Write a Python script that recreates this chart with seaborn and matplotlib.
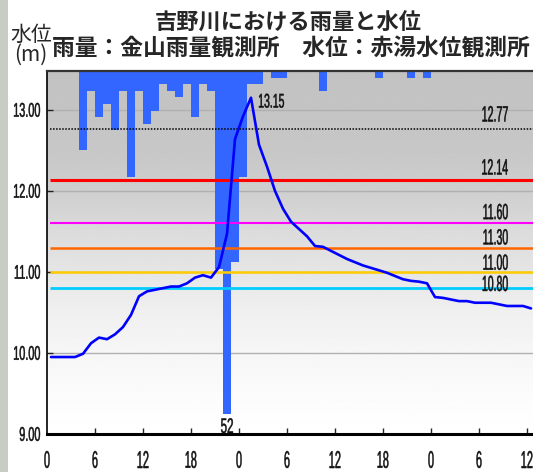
#import lib
import numpy as np
import matplotlib
matplotlib.use('Agg')
import matplotlib.pyplot as plt
import matplotlib.transforms as mtrans
from matplotlib.textpath import TextPath
from matplotlib.patches import PathPatch, Rectangle
from matplotlib.font_manager import FontProperties
import seaborn as sns

#data : hourly rain (mm) at the start of each hour, water level (m) at half past
rain_hour = list(range(0, 61))
rain_mm = [0, 0, 0, 0, 12, 3, 7, 5, 9, 3,
           16, 3, 8, 6, 2, 3, 4, 2, 7, 2,
           3, 30, 52, 29, 16, 2, 2, 0, 1, 1,
           0, 0, 0, 0, 3, 0, 0, 0, 0, 0,
           0, 1, 0, 0, 0, 1, 0, 1, 0, 0,
           0, 0, 0, 0, 0, 0, 0, 0, 0, 0, 0]

level_hour = [h + 0.5 for h in range(0, 61)]
level_m = [9.95, 9.95, 9.95, 9.95, 9.99, 10.12, 10.19, 10.17, 10.23, 10.32,
           10.47, 10.70, 10.76, 10.78, 10.80, 10.82, 10.82, 10.86, 10.93, 10.96,
           10.93, 11.06, 11.47, 12.64, 12.92, 13.15, 12.57, 12.30, 12.00, 11.78,
           11.62, 11.53, 11.44, 11.32, 11.31, 11.26, 11.21, 11.16, 11.12, 11.08,
           11.05, 11.02, 10.99, 10.95, 10.91, 10.89, 10.88, 10.86, 10.69, 10.68,
           10.66, 10.64, 10.64, 10.62, 10.62, 10.62, 10.60, 10.58, 10.58, 10.58, 10.55]

plan_level = 12.77
warn_levels = [12.14, 11.60, 11.30, 11.00, 10.80]
warn_colors = ['#ff0000', '#ff00ff', '#ff6600', '#ffcc00', '#00ccff']
warn_widths = [2.2, 1.5, 1.8, 1.8, 2.0]
label_gap = [7, 5, 4, 3, 2, -3]   # px above each line: 12.77 first

xtick_pos = list(range(0, 61, 6))
xtick_txt = ['0', '6', '12', '18', '0', '6', '12', '18', '0', '6', '12']
ytick_pos = [9, 10, 11, 12, 13]

title = '吉野川における雨量と水位'
subtitle = '雨量：金山雨量観測所　水位：赤湯水位観測所'

sns.set_theme(style='white')
plt.rcParams['font.family'] = ['Noto Sans CJK JP', 'DejaVu Sans']

num_font = FontProperties(family='Liberation Sans')

# narrow numbers (the original uses a condensed face)
def narrow_text(ax, x, y, s, h, sx, ha='left', va='bottom', dx=0, dy=0, trans=None):
    tp = TextPath((0, 0), s, size=100, prop=num_font)
    ext = tp.get_extents()
    k = h / ext.height
    ox = {'left': ext.x0, 'center': (ext.x0 + ext.x1) / 2, 'right': ext.x1}[ha] * k * sx
    oy = {'bottom': ext.y0, 'center': (ext.y0 + ext.y1) / 2, 'top': ext.y1}[va] * k
    tr = (mtrans.Affine2D().scale(k * sx, k).translate(dx - ox, dy - oy)
          + mtrans.ScaledTranslation(x, y, trans if trans is not None else ax.transData))
    ax.add_patch(PathPatch(tp, transform=tr, facecolor='#111111', edgecolor='#111111',
                           lw=0.35, clip_on=False, zorder=8))

W, H = 533, 472
fig = plt.figure(figsize=(W / 100, H / 100), dpi=100)
pos = [47 / W, 38 / H, (W - 47) / W, 363 / H]
xmax = 60.75
ymin, ymax = 9.0, 13.48

# background gradient + grid
bg = fig.add_axes(pos, zorder=0)
ys = np.linspace(ymax, ymin, 300)
shade = np.interp(ys, [9, 9.5, 10, 10.5, 11, 11.5, 12, 12.5, 13.48],
                  [1.0, 0.985, 0.965, 0.94, 0.90, 0.86, 0.81, 0.78, 0.76])
bg.imshow(shade[:, None], extent=[0, 1, ymin, ymax], aspect='auto', cmap='gray',
          vmin=0, vmax=1, interpolation='bilinear')
for v in ytick_pos:
    bg.axhline(v, color='#b0b0b0', lw=1)
bg.set_xlim(0, 1)
bg.set_ylim(ymin, ymax)
bg.axis('off')

ax = fig.add_axes(pos, zorder=2)
ax.patch.set_visible(False)
ax2 = ax.twinx()
ax2.set_zorder(1)
ax2.patch.set_visible(False)

# rain bars hanging from the top
ax2.bar(rain_hour, rain_mm, width=1, align='edge', color='#3366ff', linewidth=0)
ax2.set_ylim(55, 0)
ax2.set_yticks([])
for s in ax2.spines.values():
    s.set_visible(False)

# reference levels
ax.hlines(plan_level, 0.35, 62, colors='black', lw=1.1, linestyles=(0, (1, 1)), zorder=3)
for v, c, w in zip(warn_levels, warn_colors, warn_widths):
    ax.hlines(v, 0.35, 62, colors=c, lw=w, zorder=3)

# water level
sns.lineplot(x=level_hour, y=level_m, ax=ax, color='#0000ff', linewidth=1.9, zorder=5)

ax.set_xlim(0, xmax)
ax.set_ylim(ymin, ymax)
ax.set_xticks(xtick_pos[1:])
ax.set_yticks(ytick_pos)
ax.tick_params(axis='both', direction='in', labelleft=False, labelbottom=False,
               length=4, width=1, colors='#222222', left=True, bottom=True)
ax.set_xlabel('')
ax.set_ylabel('')
ax.spines['left'].set_color('black')
ax.spines['left'].set_linewidth(1.2)
ax.spines['bottom'].set_color('black')
ax.spines['bottom'].set_linewidth(2.2)
ax.spines['top'].set_color('#333333')
ax.spines['top'].set_linewidth(1.6)
ax.spines['right'].set_visible(False)

# tick labels
for v in ytick_pos:
    narrow_text(ax, 0, v, '%.2f' % v, 14, 0.55, ha='right', va='center', dx=-7,
                trans=ax.get_yaxis_transform())
for p, t in zip(xtick_pos, xtick_txt):
    narrow_text(ax, p, 0, t, 17, 0.45, ha='center', va='center', dy=-25.5,
                trans=ax.get_xaxis_transform())

# level labels at the right
for v, g in zip([plan_level] + warn_levels, label_gap):
    narrow_text(ax, 57.6, v, '%.2f' % v, 15.5, 0.48, ha='right', va='bottom', dy=g)

# peak and max rain labels
i_peak = int(np.argmax(level_m))
narrow_text(ax, level_hour[i_peak], level_m[i_peak], '%.2f' % level_m[i_peak], 14, 0.53,
            ha='left', va='center', dx=8, dy=-3)
i_rain = int(np.argmax(rain_mm))
narrow_text(ax, rain_hour[i_rain] + 0.5, rain_mm[i_rain], str(rain_mm[i_rain]), 15, 0.55,
            ha='center', va='top', dy=-4, trans=ax2.transData)

# titles
fig.text(288 / W, 1 - 23 / H, title, ha='center', va='center', fontsize=16, fontweight='bold')
fig.text(291 / W, 1 - 49 / H, subtitle, ha='center', va='center', fontsize=16.4, fontweight='bold')
fig.text(31 / W, 1 - 35 / H, '水位', ha='center', va='center', fontsize=15)
fig.text(31 / W, 1 - 55 / H, '(m)', ha='center', va='center', fontsize=15)

# strip of page background on the left edge
fig.patches.append(Rectangle((0, 0), 8 / W, 1, transform=fig.transFigure,
                             facecolor='#c9ccc4', edgecolor='none'))

fig.savefig('out.png', dpi=100)
